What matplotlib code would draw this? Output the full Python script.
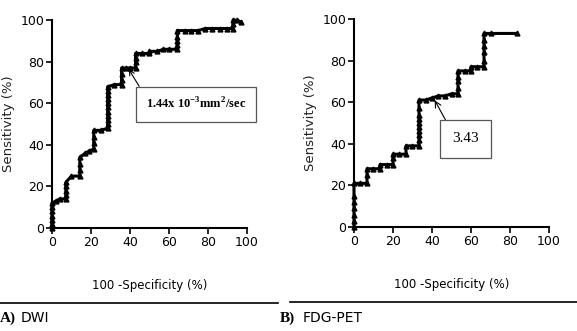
import matplotlib.pyplot as plt
from matplotlib.lines import Line2D

# ROC points, DWI (100 - specificity, sensitivity)
dwi_fpr = [0, 0, 0, 0, 0, 0, 0, 2, 4, 7.14,
           7.14, 7.14, 7.14, 7.14, 10, 14.29,
           14.29, 14.29, 14.29, 17, 19, 21.43,
           21.43, 21.43, 21.43, 25, 28.57,
           28.57, 28.57, 28.57, 28.57, 28.57, 28.57, 28.57, 28.57, 28.57, 28.57, 32, 35.71,
           35.71, 35.71, 35.71, 38, 40, 42.86,
           42.86, 42.86, 42.86, 46, 50, 50, 54, 57.14, 60, 64.29,
           64.29, 64.29, 64.29, 64.29, 68, 71.43, 75, 78.57, 82, 86, 90, 92.86,
           92.86, 92.86, 95, 97]
dwi_tpr = [0, 2, 4, 6, 8, 10, 12, 13, 14, 14,
           16, 18, 20, 22, 25, 25,
           28, 31, 34, 36, 37, 38,
           41, 44, 47, 47, 48,
           50, 52, 54, 56, 58, 60, 62, 64, 66, 68, 69, 69,
           71, 74, 77, 77, 77, 77,
           80, 82, 84, 84, 84, 85, 85, 86, 86, 86,
           88, 90, 92, 95, 95, 95, 95, 96, 96, 96, 96, 96,
           98, 100, 100, 99]

# ROC points, FDG-PET
pet_fpr = [0, 0, 0, 0, 0, 0, 0, 3.33, 6.67,
           6.67, 6.67, 10, 13.33,
           13.33, 16.67, 20,
           20, 20, 23.33, 26.67,
           26.67, 30, 33.33,
           33.33, 33.33, 33.33, 33.33, 33.33, 33.33, 33.33, 33.33, 33.33, 36.67, 40, 43.33, 46.67, 50, 53.33,
           53.33, 53.33, 53.33, 53.33, 56.67, 60, 60, 63.33, 66.67,
           66.67, 66.67, 66.67, 66.67, 66.67, 70, 83.33]
pet_tpr = [0, 3, 6, 9, 12, 15, 21, 21, 21,
           25, 28, 28, 28,
           30, 30, 30,
           33, 35, 35, 35,
           39, 39, 39,
           42, 44, 46, 48, 50, 52, 54, 57, 61, 61, 62, 63, 63, 64, 64,
           67, 70, 72, 75, 75, 75, 77, 77, 77,
           80, 84, 87, 90, 93, 93, 93]

xticks = [0, 20, 40, 60, 80, 100]
yticks = [0, 20, 40, 60, 80, 100]

tick_font = ['Liberation Sans Narrow', 'DejaVu Sans']

fig = plt.figure(figsize=(5.77, 3.31), dpi=100)


def draw_panel(rect, fpr, tpr, note, note_weight, note_size, tip, box_xy):
    ax = fig.add_axes(rect)
    ax.plot(fpr, tpr, color='black', linewidth=2.2, marker='^',
            markersize=3.5, clip_on=False)
    ax.set_xlim(0, 100)
    ax.set_ylim(0, 100)
    ax.set_xticks(xticks)
    ax.set_yticks(yticks)
    ax.spines['top'].set_visible(False)
    ax.spines['right'].set_visible(False)
    for s in ('left', 'bottom'):
        ax.spines[s].set_linewidth(1.5)
    ax.tick_params(direction='out', length=4, width=1.2, pad=1.5)
    for lab in ax.get_xticklabels() + ax.get_yticklabels():
        lab.set_family(tick_font)
        lab.set_fontsize(9)
    ax.set_xlabel('100 -Specificity (%)', family=tick_font, fontsize=8.5, labelpad=22)
    ax.set_ylabel('Sensitivity (%)', fontsize=9.5, color='#222222')
    ax.yaxis.set_label_coords(-0.19, 0.5)
    ax.annotate(note, xy=tip, xytext=box_xy, textcoords='data',
                family='Liberation Serif', fontsize=note_size, fontweight=note_weight,
                ha='left', va='center',
                bbox=dict(boxstyle='square,pad=0.8', fc='white', ec='#555555', lw=0.9),
                arrowprops=dict(arrowstyle='->', color='black', lw=0.8,
                                shrinkA=0, shrinkB=1, relpos=(0, 1)))
    return ax


draw_panel([0.090, 0.311, 0.338, 0.628], dwi_fpr, dwi_tpr,
           r'1.44x 10$^{\mathregular{-3}}$mm$^{\mathregular{2}}$/sec', 'bold', 9,
           (39, 77), (48, 59.5))
draw_panel([0.6135, 0.314, 0.338, 0.629], pet_fpr, pet_tpr,
           '3.43', 'normal', 11, (41, 61.5), (50.5, 42.3))

# separator lines and panel labels
fig.add_artist(Line2D([0.0, 0.482], [0.085, 0.085], color='black', lw=1.2))
fig.add_artist(Line2D([0.503, 1.0], [0.088, 0.088], color='black', lw=1.2))
fig.text(0.0, 0.039, 'A)', family='Liberation Serif', fontweight='bold', fontsize=11, va='center')
fig.text(0.035, 0.039, 'DWI', family=tick_font, fontsize=10, va='center')
fig.text(0.485, 0.039, 'B)', family='Liberation Serif', fontweight='bold', fontsize=11, va='center')
fig.text(0.525, 0.039, 'FDG-PET', family=tick_font, fontsize=10, va='center')

fig.savefig('out.png', dpi=100)
